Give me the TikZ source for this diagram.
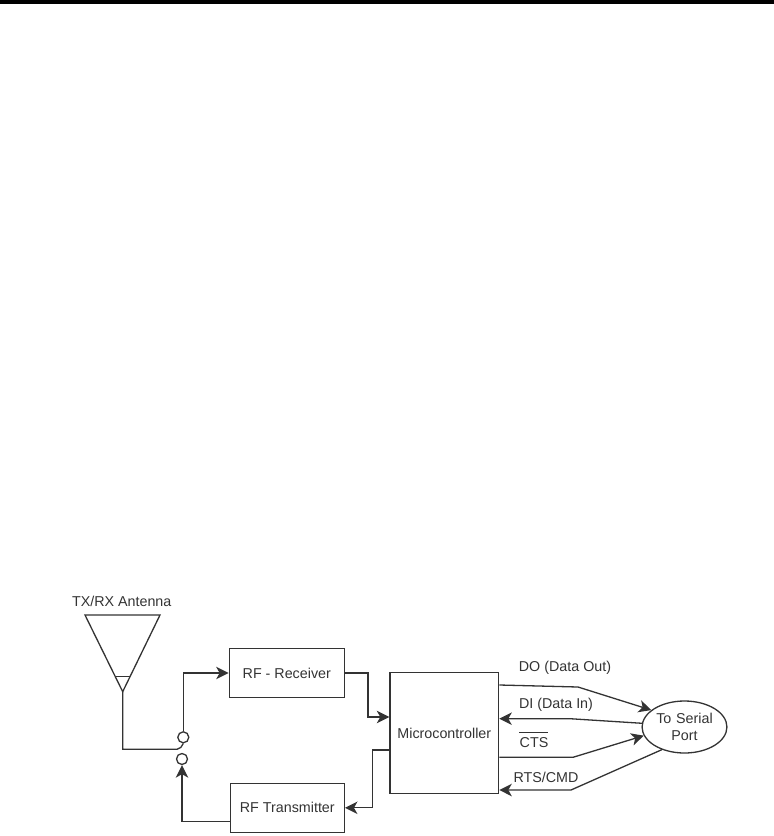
\documentclass[tikz,border=0pt]{standalone}
\usepackage{fontspec}
\setmainfont{Liberation Sans}
\usetikzlibrary{arrows.meta,shapes.geometric}
\definecolor{ink}{HTML}{333333}
\tikzset{
  wire/.style={draw=ink,line width=1.3pt,line join=miter},
  flow/.style={wire,-{Stealth[length=12.5pt,width=12.5pt,inset=3.5pt]}},
  blockbox/.style={draw=ink,line width=1.3pt,inner sep=0pt,align=center,text=ink,font=\fontsize{14.3}{17}\selectfont},
  contact/.style={circle,draw=ink,line width=1.3pt,inner sep=0pt,minimum size=11pt},
  lbl/.style={text=ink,inner sep=0pt,font=\fontsize{14.3}{17}\selectfont}
}
\begin{document}
\begin{tikzpicture}[x=1pt,y=-1pt]
\useasboundingbox (0,0) rectangle (774,836);
\fill[black] (0,0) rectangle (774,4);
% antenna
\coordinate (antL) at (85,615);
\coordinate (antR) at (160,615);
\coordinate (antA) at (122.7,691.7);
\coordinate (antFoot) at (122.7,749.3);
\coordinate (armEnd) at (177,749.3);
\draw[wire] (antL) -- (antR) -- (antA) -- cycle;
\draw[wire] (115.5,676.7) -- (130,676.7);
\node[lbl] (antlabel) at (121.7,601.5) {TX/RX Antenna};
% blocks
\node[blockbox,minimum width=115pt,minimum height=48.6pt] (rx) at (286.8,673) {RF - Receiver};
\node[blockbox,minimum width=114pt,minimum height=49pt] (tx) at (287.3,807.8) {RF Transmitter};
\node[blockbox,minimum width=108.7pt,minimum height=121pt] (mcu) at (444.3,733.2) {Microcontroller};
\node[blockbox,ellipse,minimum width=72pt,minimum height=52pt,text width=60pt] (port) at (684.5,727) {To Serial\\Port};
\node[contact] (c1) at (183.3,737.3) {};
\node[contact] (c2) at (182,759) {};
% switch
\draw[wire] (antA) -- (antFoot) -- (armEnd) to[out=0,in=-120] (c1.south);
\coordinate (rxBend) at (c1.north |- rx.west);
\draw[flow] (c1.north) -- (rxBend) -- (rx.west);
\coordinate (txOut) at ([yshift=-14pt]tx.west);
\coordinate (txBend) at (c2.south |- txOut);
\draw[flow] (txOut) -- (txBend) -- (c2.south);
% rx to mcu
\coordinate (mcuIn) at ([yshift=16.2pt]mcu.west);
\draw[flow] (rx.east) -- (368,673) -- (368,717) -- (mcuIn);
\coordinate (mcuOut) at ([yshift=-16.8pt]mcu.west);
\draw[flow] (mcuOut) -- (372.3,750) -- (372.3,807.8) -- (tx.east);
% serial lines
\coordinate (doS) at ([yshift=48.2pt]mcu.east);
\coordinate (diE) at ([yshift=14.5pt]mcu.east);
\coordinate (ctsS) at ([yshift=-24.1pt]mcu.east);
\coordinate (rtsE) at ([yshift=-56.8pt]mcu.east);
\draw[flow] (doS) -- (578,687) -- (port.153);
\draw[flow] (port.175) -- (570,718.7) -- (diE);
\draw[flow] (ctsS) -- (573,757.3) -- (port.192);
\draw[flow] (port.225) -- (571,790) -- (rtsE);
\node[lbl] (dolabel) at (565,668) {DO (Data Out)};
\node[lbl] (dilabel) at (556,705) {DI (Data In)};
\node[lbl] (ctslabel) at (534,742.7) {CTS};
\draw[ink,line width=0.9pt] (519,732) -- (547.5,732);
\node[lbl] (rtslabel) at (546,777.7) {RTS/CMD};
\end{tikzpicture}
\end{document}
